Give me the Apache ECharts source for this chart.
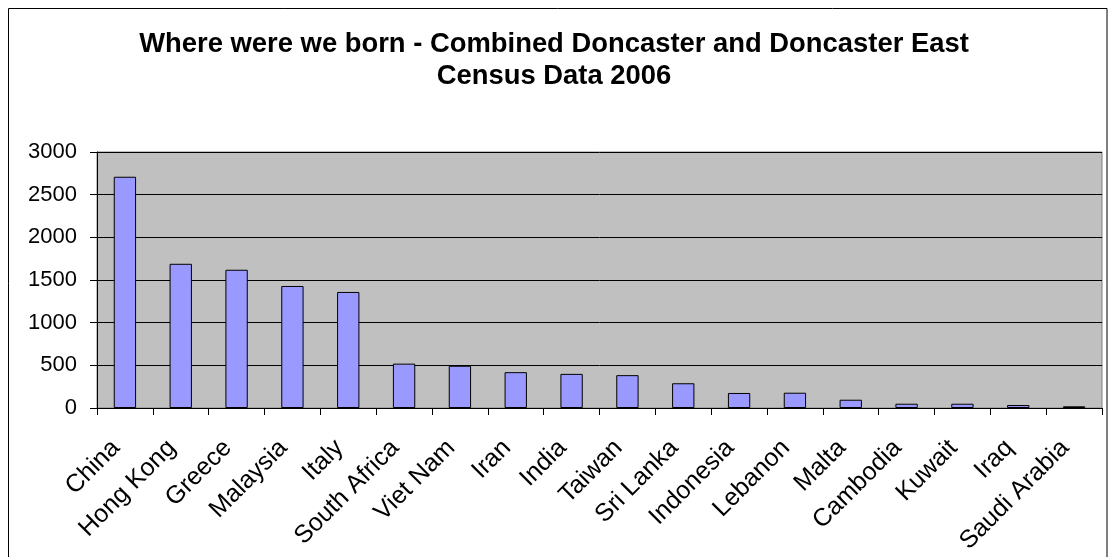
<!DOCTYPE html>
<html>
<head>
<meta charset="utf-8">
<script src="https://cdn.jsdelivr.net/npm/echarts@6/dist/echarts.min.js"></script>
<style>
html,body{margin:0;padding:0;background:#fff;}
#chart{width:1108px;height:557px;}
</style>
</head>
<body>
<div id="chart"></div>
<script>
const titleLines = ['Where were we born - Combined Doncaster and Doncaster East', 'Census Data 2006'];
const categories = ['China', 'Hong Kong', 'Greece', 'Malaysia', 'Italy', 'South Africa', 'Viet Nam', 'Iran', 'India', 'Taiwan', 'Sri Lanka', 'Indonesia', 'Lebanon', 'Malta', 'Cambodia', 'Kuwait', 'Iraq', 'Saudi Arabia'];
const values = [2710, 1690, 1620, 1430, 1360, 520, 495, 420, 400, 385, 290, 176, 179, 97, 50, 50, 35, 20];
const yMin = 0, yMax = 3000, yStep = 500;

const chart = echarts.init(document.getElementById('chart'), null, {renderer: 'canvas'});
const FONT = '"Liberation Sans", Arial, sans-serif';
chart.setOption({
  animation: false,
  backgroundColor: '#ffffff',
  title: {
    text: titleLines.join('\n'),
    left: 'center',
    top: 23,
    padding: [5, 0, 5, 14],
    textStyle: {fontFamily: FONT, fontSize: 27.4, fontWeight: 'bold', color: '#000', lineHeight: 32}
  },
  graphic: [{
    type: 'rect', z: -1, silent: true,
    shape: {x: 8.5, y: 8.5, width: 1098.5, height: 600},
    style: {fill: 'none', stroke: '#000', lineWidth: 1}
  }],
  grid: {left: 97, right: 6, top: 152, bottom: 149, backgroundColor: '#C0C0C0', show: true, borderColor: '#808080', borderWidth: 1},
  xAxis: {
    type: 'category',
    data: categories,
    boundaryGap: true,
    axisLine: {lineStyle: {color: '#000', width: 1}},
    axisTick: {show: true, alignWithLabel: false, length: 7, lineStyle: {color: '#000'}},
    axisLabel: {rotate: 45, interval: 0, margin: 45, verticalAlign: 'bottom', lineHeight: 25, fontFamily: FONT, fontSize: 25, color: '#000'}
  },
  yAxis: {
    type: 'value',
    min: yMin, max: yMax, interval: yStep,
    axisLine: {show: true, lineStyle: {color: '#000', width: 1}},
    axisTick: {show: true, length: 7, lineStyle: {color: '#000'}},
    axisLabel: {margin: 20, fontFamily: FONT, fontSize: 22, color: '#000', formatter: v => String(v)},
    splitLine: {show: true, lineStyle: {color: '#000', width: 1}}
  },
  series: [{
    type: 'bar',
    data: values,
    barWidth: '40%',
    itemStyle: {color: '#9999FF', borderColor: '#000', borderWidth: 1}
  }]
});
</script>
</body>
</html>
